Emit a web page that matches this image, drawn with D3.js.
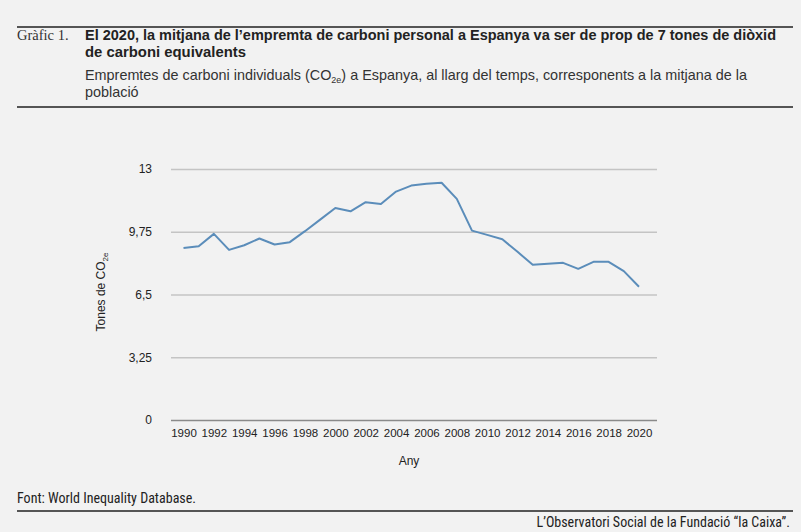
<!DOCTYPE html>
<html>
<head>
<meta charset="utf-8">
<script src="https://cdn.jsdelivr.net/npm/d3@7"></script>
<style>
  html, body { margin: 0; padding: 0; background: #f2f2f2; }
  svg { display: block; }
</style>
</head>
<body>
<script>
const years = [1990,1991,1992,1993,1994,1995,1996,1997,1998,1999,2000,2001,2002,2003,2004,2005,2006,2007,2008,2009,2010,2011,2012,2013,2014,2015,2016,2017,2018,2019,2020];
const values = [8.91,9.0,9.64,8.81,9.05,9.40,9.09,9.21,9.78,10.38,10.98,10.81,11.28,11.19,11.83,12.14,12.24,12.29,11.45,9.81,9.59,9.36,8.71,8.04,8.09,8.14,7.83,8.19,8.19,7.71,6.90];
const yTicks = [0, 3.25, 6.5, 9.75, 13];
const yTickLabels = ["0", "3,25", "6,5", "9,75", "13"];
const xTicks = [1990,1992,1994,1996,1998,2000,2002,2004,2006,2008,2010,2012,2014,2016,2018,2020];

const W = 801, H = 532;
const svg = d3.select("body").append("svg").attr("width", W).attr("height", H);
svg.append("rect").attr("width", W).attr("height", H).attr("fill", "#f2f2f2");

const narrow = "'Liberation Sans Narrow', 'Roboto Condensed', 'Liberation Sans', Arial, sans-serif";
const sans = "'Liberation Sans', Arial, Helvetica, sans-serif";

// header
svg.append("line").attr("x1", 17).attr("x2", 793).attr("y1", 27).attr("y2", 27)
  .attr("stroke", "#555").attr("stroke-width", 2);
svg.append("text").attr("x", 17).attr("y", 40)
  .attr("font-family", "'Liberation Serif', 'DejaVu Serif', serif").attr("font-size", 14.5)
  .attr("fill", "#333").text("Gràfic 1.");
svg.append("text").attr("x", 85).attr("y", 40)
  .attr("font-family", sans).attr("font-weight", "bold").attr("font-size", 15)
  .attr("fill", "#222")
  .attr("textLength", 691).attr("lengthAdjust", "spacingAndGlyphs")
  .text("El 2020, la mitjana de l’empremta de carboni personal a Espanya va ser de prop de 7 tones de diòxid");
svg.append("text").attr("x", 85).attr("y", 57)
  .attr("font-family", sans).attr("font-weight", "bold").attr("font-size", 15)
  .attr("fill", "#222")
  .attr("textLength", 161).attr("lengthAdjust", "spacingAndGlyphs")
  .text("de carboni equivalents");

const sub = svg.append("text").attr("x", 85).attr("y", 80)
  .attr("font-family", sans).attr("font-size", 14.4).attr("fill", "#333");
sub.append("tspan").text("Empremtes de carboni individuals (CO");
sub.append("tspan").attr("font-size", 9).attr("dy", 3).text("2e");
sub.append("tspan").attr("dy", -3).text(") a Espanya, al llarg del temps, corresponents a la mitjana de la");
svg.append("text").attr("x", 85).attr("y", 97)
  .attr("font-family", sans).attr("font-size", 14.4).attr("fill", "#333").text("població");

svg.append("line").attr("x1", 17).attr("x2", 793).attr("y1", 107).attr("y2", 107)
  .attr("stroke", "#555").attr("stroke-width", 2);

// scales
const x = d3.scaleLinear().domain([1990, 2020]).range([183.5, 639]);
const y = d3.scaleLinear().domain([0, 13]).range([420, 169]);
const gridX1 = 171, gridX2 = 657;

// y grid + axis
const yAxis = d3.axisLeft(y).tickValues(yTicks)
  .tickFormat(d => yTickLabels[yTicks.indexOf(d)])
  .tickSize(-(gridX2 - gridX1)).tickPadding(19);
const gy = svg.append("g").attr("transform", `translate(${gridX1},0)`).call(yAxis);
gy.select(".domain").remove();
gy.selectAll(".tick line").attr("stroke", d => d === 0 ? "#8a8a8a" : "#c4c4c4").attr("stroke-width", 1.3);
gy.selectAll(".tick text").attr("font-family", sans).attr("font-size", 12).attr("fill", "#222");

// x axis labels
const xAxis = d3.axisBottom(x).tickValues(xTicks).tickFormat(d3.format("d")).tickSize(0).tickPadding(9);
const gx = svg.append("g").attr("transform", "translate(0,420)").call(xAxis);
gx.select(".domain").remove();
gx.selectAll(".tick text").attr("font-family", sans).attr("font-size", 11.5).attr("fill", "#222");

// line
const line = d3.line().x((d, i) => x(years[i])).y(d => y(d));
svg.append("path").datum(values).attr("d", line)
  .attr("fill", "none").attr("stroke", "#5b8dba").attr("stroke-width", 2)
  .attr("stroke-linejoin", "round");

// axis titles
svg.append("text").attr("x", 409).attr("y", 465).attr("text-anchor", "middle")
  .attr("font-family", sans).attr("font-size", 12).attr("fill", "#222").text("Any");

const yl = svg.append("text").attr("transform", "translate(105,292) rotate(-90)")
  .attr("text-anchor", "middle")
  .attr("font-family", sans).attr("font-size", 12).attr("fill", "#222");
yl.append("tspan").text("Tones de CO");
yl.append("tspan").attr("font-size", 8).attr("dy", 3).text("2e");

// footer
svg.append("text").attr("x", 17).attr("y", 503)
  .attr("font-family", narrow).attr("font-size", 14).attr("fill", "#222")
  .attr("textLength", 179).attr("lengthAdjust", "spacingAndGlyphs")
  .text("Font: World Inequality Database.");
svg.append("line").attr("x1", 17).attr("x2", 793).attr("y1", 511).attr("y2", 511)
  .attr("stroke", "#555").attr("stroke-width", 2);
svg.append("text").attr("x", 790).attr("y", 527).attr("text-anchor", "end")
  .attr("font-family", narrow).attr("font-size", 14).attr("fill", "#222")
  .text("L’Observatori Social de la Fundació “la Caixa”.");
</script>
</body>
</html>
